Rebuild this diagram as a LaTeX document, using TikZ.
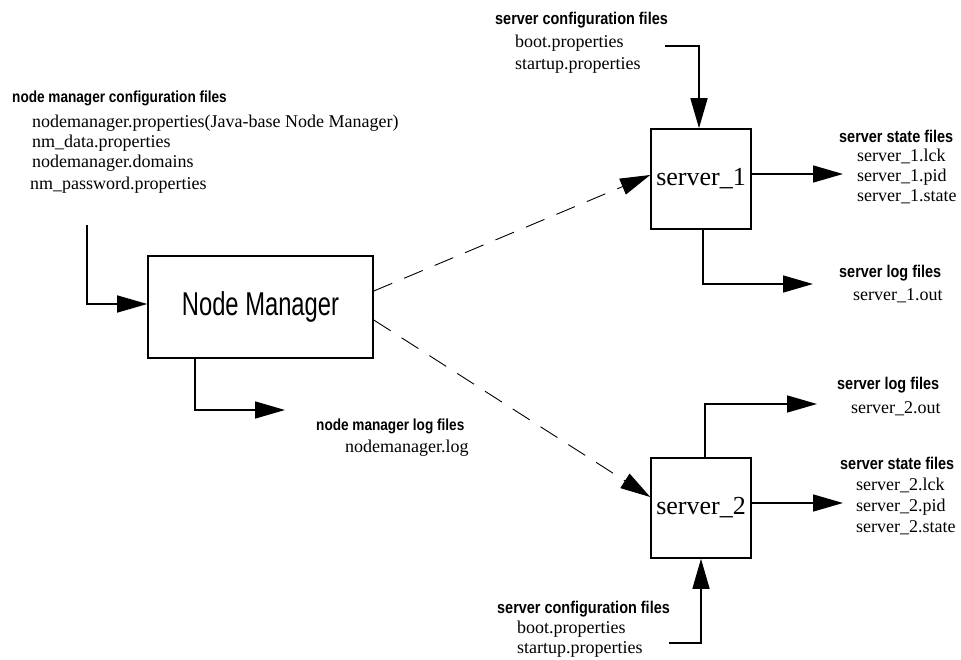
\documentclass[tikz,border=0pt]{standalone}
\usepackage{fontspec}
\setmainfont{Liberation Serif}
\newfontfamily\hdfont[FakeStretch=0.85]{Liberation Sans Bold}
\newfontfamily\nmfont[FakeStretch=0.72]{Liberation Sans}
\usetikzlibrary{arrows.meta}
\newcommand{\smalltxt}{\fontsize{18}{21}\selectfont}
\newcommand{\srvtxt}{\fontsize{26}{30}\selectfont}
\newcommand{\nmtxt}{\nmfont\fontsize{33}{38}\selectfont}
\newcommand{\hdnm}{\hdfont\fontsize{16}{19}\selectfont}
\newcommand{\hdsrv}{\hdfont\fontsize{17}{20}\selectfont}
\begin{document}
\begin{tikzpicture}[x=1pt,y=-1pt,
  txt/.style={font=\smalltxt, inner sep=0pt, anchor=base west},
  hdn/.style={font=\hdnm, inner sep=0pt, anchor=base west},
  hds/.style={font=\hdsrv, inner sep=0pt, anchor=base west},
  box/.style={draw, line width=1.6pt, inner sep=0pt},
  arr/.style={-{Triangle[length=30pt,width=17pt]}, line width=1.5pt},
  dsh/.style={-{Triangle[length=30pt,width=17pt]}, line width=0.9pt, dash pattern=on 20pt off 13pt}]
\useasboundingbox (0,0) rectangle (961,660);
% boxes
\node[box, minimum width=225pt, minimum height=102pt, font=\nmtxt] (nm) at (260.5,307) {Node Manager};
\node[box, minimum width=100pt, minimum height=100pt, font=\srvtxt] (s1) at (701,179) {server\_1};
\node[box, minimum width=100pt, minimum height=100pt, font=\srvtxt] (s2) at (701,508) {server\_2};
% node manager config
\node[hdn] (nmcfgh) at (12,103) {node manager configuration files};
\node[txt] (nmc1) at (32,128) {nodemanager.properties(Java-base Node Manager)};
\node[txt] (nmc2) at (32,148) {nm\_data.properties};
\node[txt] (nmc3) at (32,168) {nodemanager.domains};
\node[txt] (nmc4) at (30,190) {nm\_password.properties};
% node manager log
\node[hdn] (nmlogh) at (316,430) {node manager log files};
\node[txt] (nmlog1) at (345,452) {nodemanager.log};
% server 1
\node[hds] (s1cfgh) at (495,25) {server configuration files};
\node[txt] (s1c1) at (515,48) {boot.properties};
\node[txt] (s1c2) at (515,70) {startup.properties};
\node[hds] (s1sth) at (839,143) {server state files};
\node[txt] (s1s1) at (857,162) {server\_1.lck};
\node[txt] (s1s2) at (857,182) {server\_1.pid};
\node[txt] (s1s3) at (857,202) {server\_1.state};
\node[hds] (s1logh) at (839,278) {server log files};
\node[txt] (s1l1) at (853,301) {server\_1.out};
% server 2
\node[hds] (s2logh) at (837,389) {server log files};
\node[txt] (s2l1) at (851,413) {server\_2.out};
\node[hds] (s2sth) at (840,469) {server state files};
\node[txt] (s2s1) at (856,490) {server\_2.lck};
\node[txt] (s2s2) at (856,511) {server\_2.pid};
\node[txt] (s2s3) at (856,532) {server\_2.state};
\node[hds] (s2cfgh) at (497,613) {server configuration files};
\node[txt] (s2c1) at (517,633) {boot.properties};
\node[txt] (s2c2) at (517,653) {startup.properties};
% connector end points
\coordinate (nmin) at (87,225);
\coordinate (nmout) at (285,410);
\coordinate (s1in) at (665,46);
\coordinate (s1st) at (843,174);
\coordinate (s1lg) at (813,284);
\coordinate (s2lg) at (817,404);
\coordinate (s2st) at (843,503);
\coordinate (s2in) at (669,643);
% connectors
\draw[arr] (nmin) |- ([yshift=3pt]nm.west);
\draw[arr] ([xshift=48pt]nm.south west) |- (nmout);
\draw[dsh] ([yshift=16pt]nm.east) -- ([yshift=4pt]s1.west);
\draw[dsh] ([yshift=-13pt]nm.east) -- ([yshift=11pt]s2.west);
\draw[arr] (s1in) -| ([xshift=-2pt]s1.north);
\draw[arr] ([yshift=5pt]s1.east) -- (s1st);
\draw[arr] ([xshift=2pt]s1.south) |- (s1lg);
\draw[arr] ([xshift=4pt]s2.north) |- (s2lg);
\draw[arr] ([yshift=5pt]s2.east) -- (s2st);
\draw[arr] (s2in) -| (s2.south);
\end{tikzpicture}
\end{document}
